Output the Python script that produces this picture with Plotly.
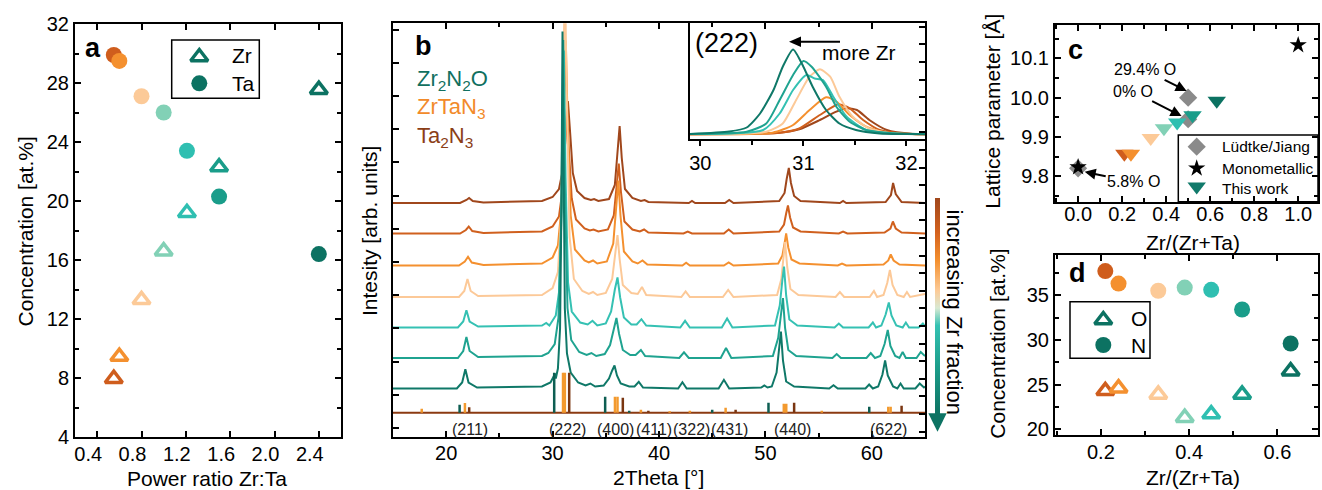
import plotly.graph_objects as go

W, H = 1322, 490
FONT = "Liberation Sans, Arial, sans-serif"

# ---------------- data ----------------
# samples ordered Ta-rich -> Zr-rich
SAMPLE_COLORS = ["#cf5d1d", "#f4902f", "#fcca98", "#82d1b6", "#2fbfb1", "#1a9d8a", "#0c7262"]

# panel a: composition vs. power ratio
power_ratio = [0.55, 0.60, 0.80, 1.00, 1.21, 1.50, 2.40]
conc_zr = [7.95, 9.45, 13.3, 16.6, 19.2, 22.3, 27.55]
conc_ta = [29.9, 29.5, 27.1, 26.0, 23.4, 20.3, 16.4]

# panel c: lattice parameter
zr_fraction = [0.21, 0.24, 0.33, 0.39, 0.45, 0.52, 0.63]
lattice_this_work = [9.857, 9.857, 9.897, 9.922, 9.937, 9.955, 9.992]
lit_zr_fraction = [0.50, 0.50, 0.00]
lit_lattice = [10.000, 9.945, 9.820]
mono_zr_fraction = [0.00, 1.00]
mono_lattice = [9.823, 10.134]
note_labels = ["29.4% O", "0% O", "5.8% O"]
note_targets_x = [0.493, 0.47, 0.03]
note_targets_y = [10.017, 9.953, 9.811]

# panel d: O and N content
conc_o = [24.3, 24.6, 23.9, 21.3, 21.7, 23.9, 26.5]
conc_n = [37.7, 36.3, 35.5, 35.85, 35.6, 33.4, 29.6]

# panel b: diffractograms (2theta, intensity above background), top -> bottom
XRD_COLORS = ["#a0471c", "#d0601e", "#f4902f", "#fcc998", "#35c1b3", "#1fa390", "#0f7868"]

xrd1_tt = [15, 21.3, 21.9, 22.15, 22.5, 23.5, 29.0, 30.0, 30.6, 31.0, 31.25, 31.44, 31.65, 31.9, 32.3, 33.0, 33.6, 33.9,
           34.3, 35.3, 35.85, 36.1, 36.3, 36.5, 36.8, 37.5, 38.3, 38.65, 39.0, 42.8, 43.1, 43.4, 46.2, 46.6, 47.0, 51.3,
           51.8, 52.0, 52.2, 52.4, 52.7, 53.3, 57.0, 57.3, 57.6, 61.3, 61.8, 62.0, 62.25, 62.8, 65]
xrd1_int = [0, 0, 3, 5, 2, 0.5, 2, 6, 14, 35, 70, 102, 70, 30, 12, 5, 3, 4,
            2, 4, 18, 50, 77, 45, 14, 5, 2, 3, 1, 0, 2, 0, 0, 3, 0, 2,
            10, 24, 35, 20, 7, 2, 0, 2, 0, 1, 8, 20, 9, 1, 0]

xrd2_tt = [15, 21.3, 21.85, 22.12, 22.45, 23.5, 29.0, 30.0, 30.6, 30.95, 31.18, 31.34, 31.52, 31.8, 32.2, 33.0, 33.5,
           33.85, 34.3, 35.2, 35.75, 36.02, 36.22, 36.42, 36.75, 37.5, 38.2, 38.6, 39.0, 42.3, 42.7, 43.1, 46.1, 46.55,
           47.0, 51.3, 51.75, 51.95, 52.12, 52.32, 52.6, 53.3, 56.9, 57.3, 57.7, 61.2, 61.75, 61.98, 62.25, 62.8, 65]
xrd2_int = [0, 0, 3.5, 7, 2.5, 0.5, 2, 7, 17, 45, 90, 125, 85, 35, 14, 5, 3,
            4, 2, 4, 18, 48, 70, 42, 12, 4, 2, 4, 1, 0, 2, 0, 0, 4,
            0, 2, 9, 20, 28, 16, 6, 2, 0, 2, 0, 1, 5, 12, 5, 1, 0]

xrd3_tt = [15, 21.2, 21.75, 22.05, 22.4, 23.5, 29.0, 30.0, 30.5, 30.85, 31.08, 31.24, 31.42, 31.7, 32.1, 33.0, 33.4,
           33.8, 34.2, 35.1, 35.7, 35.98, 36.18, 36.38, 36.7, 37.5, 38.0, 38.45, 38.9, 42.2, 42.55, 42.9, 46.1, 46.55,
           47.0, 51.2, 51.6, 51.8, 51.95, 52.15, 52.45, 53.2, 56.8, 57.2, 57.6, 61.1, 61.55, 61.78, 62.05, 62.6, 65]
xrd3_int = [0, 0, 4, 8.7, 3, 0.5, 2, 8, 20, 60, 150, 225, 140, 50, 16, 5, 3,
            5, 2, 4, 22, 55, 85, 50, 14, 4, 2, 5, 1, 0, 2.7, 0, 0, 3,
            0, 2, 10, 22, 32, 18, 6, 2, 0, 2, 0, 1, 5, 11, 5, 1, 0]

xrd4_tt = [15, 21.2, 21.7, 22.0, 22.3, 23.0, 29.0, 30.0, 30.5, 30.8, 31.0, 31.16, 31.33, 31.6, 32.0, 32.8, 33.4, 33.8,
           34.2, 35.0, 35.6, 35.9, 36.1, 36.3, 36.6, 37.4, 38.0, 38.4, 38.8, 42.1, 42.5, 42.9, 46.0, 46.5, 47.0, 51.1,
           51.5, 51.7, 51.85, 52.05, 52.35, 53.1, 56.6, 57.0, 57.4, 59.8, 60.2, 60.5, 61.1, 61.45, 61.7, 61.95, 62.4,
           63.0, 63.3, 63.6, 65]
xrd4_int = [0, 0, 6, 18, 6, 1, 2, 9, 25, 80, 220, 320, 200, 60, 18, 6, 3, 5,
            2, 4, 18, 45, 62, 38, 12, 4, 3, 10, 2, 0, 5.7, 0, 0, 7, 0, 2,
            18, 40, 55, 30, 8, 2, 0, 5, 0, 0, 6, 0, 2, 14, 27, 12, 2,
            0, 5, 0, 3]

xrd5_tt = [15, 21.1, 21.6, 21.9, 22.2, 23.0, 29.0, 29.4, 29.7, 30.3, 30.6, 30.85, 31.06, 31.22, 31.45, 31.8, 32.6,
           33.3, 33.75, 34.2, 35.0, 35.5, 35.85, 36.1, 36.35, 36.7, 37.4, 37.9, 38.35, 38.8, 42.0, 42.45, 42.9, 45.9,
           46.4, 46.9, 50.9, 51.35, 51.6, 51.75, 51.95, 52.25, 53.0, 56.5, 56.9, 57.3, 59.7, 60.1, 60.4, 60.9, 61.3,
           61.6, 61.85, 62.3, 62.9, 63.2, 63.5, 64.4, 64.8, 65]
xrd5_int = [0, 0, 6, 17.3, 6, 1, 2, 4.5, 2, 12, 35, 120, 277, 150, 45, 16, 5,
            3, 6.7, 2, 4, 16, 38, 50, 30, 10, 3, 3, 8.3, 2, 0, 6.7, 0, 0,
            9, 0, 2, 22, 48, 61, 32, 8, 2, 0, 4, 0, 0, 5, 0, 2, 13,
            25, 12, 2, 0, 5, 0, 0, 4, 1]

xrd6_tt = [15, 21.1, 21.6, 21.9, 22.2, 23.0, 29.0, 29.6, 30.2, 30.55, 30.8, 31.0, 31.15, 31.4, 31.75, 32.5, 33.2,
           33.65, 34.1, 34.9, 35.4, 35.75, 36.0, 36.25, 36.6, 37.3, 37.8, 38.3, 38.7, 41.9, 42.35, 42.8, 45.8, 46.3,
           46.8, 50.7, 51.2, 51.48, 51.65, 51.85, 52.15, 52.9, 56.3, 56.7, 57.1, 59.5, 59.9, 60.3, 60.8, 61.2, 61.5,
           61.75, 62.2, 62.6, 62.9, 63.2, 64.2, 64.6, 65]
xrd6_int = [0, 0, 7, 21, 7, 1, 2, 5, 14, 40, 130, 318, 170, 50, 18, 6, 3,
            5, 2, 4, 13, 30, 40, 24, 8, 3, 3, 8, 2, 0, 5.7, 0, 0, 10,
            0, 2, 20, 45, 60, 30, 8, 2, 0, 4, 0, 0, 5, 0, 2, 14, 28,
            12, 2, 0, 6, 0, 0, 6, 2]

xrd7_tt = [15, 21.0, 21.5, 21.8, 22.1, 22.9, 29.0, 29.8, 30.1, 30.2, 30.3, 30.5, 30.7, 30.83, 30.93, 31.03, 31.15,
           31.35, 31.7, 32.4, 33.1, 33.55, 34.0, 34.8, 35.3, 35.6, 35.82, 36.05, 36.4, 37.2, 37.7, 38.1, 38.5, 41.8,
           42.2, 42.6, 45.6, 46.1, 46.6, 49.6, 49.9, 50.2, 50.6, 51.05, 51.3, 51.46, 51.65, 51.95, 52.7, 56.0, 56.4,
           56.8, 59.4, 59.75, 60.1, 60.6, 61.0, 61.25, 61.5, 62.0, 62.4, 62.7, 63.0, 64.1, 64.5, 64.9, 65]
xrd7_int = [0, 0, 6, 19.3, 6, 1, 2, 6, 12, 15, 10, 20, 60, 180, 357, 200, 80,
            35, 16, 6, 3, 5, 2, 3, 10, 18, 23, 13, 5, 2, 2, 6.7, 1, 0,
            6.3, 0, 0, 8.7, 0, 1, 3, 1, 2, 16, 38, 57, 28, 7, 2, 0, 3.3,
            0, 0, 4, 0, 2, 14, 28, 13, 2, 0, 5, 0, 0, 5, 1, 2]

XRD_TT = [xrd1_tt, xrd2_tt, xrd3_tt, xrd4_tt, xrd5_tt, xrd6_tt, xrd7_tt]
XRD_INT = [xrd1_int, xrd2_int, xrd3_int, xrd4_int, xrd5_int, xrd6_int, xrd7_int]

# (222) close-up, intensity above background, same order as XRD_COLORS
z222_tt = [
    [29.9, 30.77, 30.96, 31.16, 31.32, 31.42, 31.52, 31.64, 31.81, 32.06, 32.18],
    [29.9, 30.77, 30.96, 31.16, 31.34, 31.45, 31.58, 31.74, 31.94, 32.18],
    [29.9, 30.7, 30.9, 31.06, 31.22, 31.32, 31.45, 31.61, 31.81, 32.18],
    [29.9, 30.64, 30.8, 30.93, 31.06, 31.16, 31.26, 31.35, 31.48, 31.64, 31.87, 32.18],
    [29.9, 30.61, 30.77, 30.9, 31.03, 31.11, 31.19, 31.29, 31.42, 31.61, 31.87, 32.18],
    [29.9, 30.45, 30.64, 30.77, 30.9, 31.0, 31.08, 31.22, 31.32, 31.45, 31.61, 31.87, 32.18],
    [29.9, 30.28, 30.45, 30.58, 30.71, 30.8, 30.9, 31.0, 31.09, 31.22, 31.35, 31.51, 31.74, 32.0, 32.18],
]
z222_int = [
    [0.3, 1.8, 5.2, 14.5, 22.8, 26.2, 24.5, 14.5, 4.5, 0.5, 0.3],
    [0.3, 1.8, 6, 19.5, 30.2, 26.2, 14.5, 4.5, 1.2, 0.3],
    [0.3, 1.8, 9.5, 24.5, 37.2, 32.8, 19.5, 7.8, 1.8, 0.3],
    [0.5, 2.8, 11, 34.5, 57.8, 65.2, 57.8, 37.8, 17.8, 6, 1, 0.5],
    [0.5, 4.5, 21, 44.5, 59.5, 56, 54.5, 37.8, 17.8, 4.5, 1, 0.5],
    [0.5, 2.8, 11, 34.5, 59.5, 73.5, 67.8, 47.8, 27.8, 12.8, 4.5, 1.2, 0.5],
    [0.5, 3, 7, 21, 44.5, 67.8, 85, 67.8, 47.8, 24.5, 11, 4.5, 1, 0.5, 0.3],
]

# reference patterns (position, relative height)
ref_names = ["Zr<sub>2</sub>N<sub>2</sub>O", "ZrTaN<sub>3</sub>", "Ta<sub>2</sub>N<sub>3</sub>"]
ref_colors = ["#0d5e52", "#f39a2e", "#7a3510"]
ref_label_colors = ["#11705f", "#f28a2a", "#8b3e17"]
ref_pos = [
    [21.26, 30.15, 34.94, 37.2, 45.0, 50.29, 59.76],
    [17.7, 21.76, 30.98, 31.15, 35.86, 36.1, 38.3, 41.0, 42.9, 46.26, 51.73, 51.96, 55.3, 61.55, 61.77],
    [22.16, 31.56, 36.6, 39.0, 47.2, 52.7, 62.8],
]
ref_height = [
    [8, 40, 16, 2, 3, 10, 6],
    [4, 9.6, 40, 40, 16, 16, 3, 1.5, 2, 5, 9, 9, 2, 6, 6],
    [5.4, 40, 15, 2, 3, 10, 7],
]
hkl_labels = ["(211)", "(222)", "(400)", "(411)", "(322)", "(431)", "(440)", "(622)"]
hkl_pos = [22.25, 31.4, 35.9, 39.5, 43.1, 46.6, 52.5, 61.6]

GRADIENT = [[0, "#0d7363"], [0.22, "#1c9e8b"], [0.41, "#35c2b3"], [0.49, "#d8e9d3"],
            [0.57, "#fccb98"], [0.71, "#f4902f"], [0.84, "#d4621e"], [1, "#a0471c"]]


# ---------------- layout helpers ----------------
def P(x, y):
    return x / W, 1 - y / H


def dom(a, b):
    return [a / W, b / W]


def ydom(top, bottom):
    return [1 - bottom / H, 1 - top / H]


def frame_axis(**kw):
    d = dict(showline=True, linewidth=2, linecolor="black", mirror="ticks", ticks="inside",
             ticklen=6, tickwidth=2, tickcolor="black", showgrid=False, zeroline=False,
             automargin=False, tickfont=dict(size=20, color="black", family=FONT))
    d.update(kw)
    return d


def minor(dt):
    return dict(ticks="inside", ticklen=4, tickwidth=2, tickcolor="black", dtick=dt)


fig = go.Figure()

# ---------------- panel a ----------------
fig.add_trace(go.Scatter(x=power_ratio, y=conc_ta, mode="markers",
                         marker=dict(symbol="circle", size=16, color=SAMPLE_COLORS, opacity=1),
                         xaxis="x", yaxis="y"))
fig.add_trace(go.Scatter(x=power_ratio, y=conc_zr, mode="markers",
                         marker=dict(symbol="triangle-up-open", size=15, color=SAMPLE_COLORS, opacity=1,
                                     line=dict(width=3.5)),
                         xaxis="x", yaxis="y"))

# ---------------- panel b ----------------
B_OFFSETS = [233.7, 203.2, 171.2, 139.7, 109.2, 78.7, 48.2]
STICK_BASE = 24
for tt, inten, off, col in zip(XRD_TT, XRD_INT, B_OFFSETS, XRD_COLORS):
    fig.add_trace(go.Scatter(x=tt, y=[v + off for v in inten], mode="lines",
                             line=dict(color=col, width=2), xaxis="x2", yaxis="y2"))

fig.add_trace(go.Scatter(x=[15, 65], y=[STICK_BASE, STICK_BASE], mode="lines",
                         line=dict(color="#8b3a12", width=2), xaxis="x2", yaxis="y2"))
for pos, hgt, col in zip(ref_pos, ref_height, ref_colors):
    sx, sy = [], []
    for p, h in zip(pos, hgt):
        sx += [p, p, None]
        sy += [STICK_BASE, STICK_BASE + h, None]
    fig.add_trace(go.Scatter(x=sx, y=sy, mode="lines",
                             line=dict(color=col, width=2.5), xaxis="x2", yaxis="y2"))

# right-hand tick axis of panel b
fig.add_trace(go.Scatter(x=[None], y=[None], xaxis="x2", yaxis="y3"))

# colour ramp for the Zr-fraction arrow
fig.add_trace(go.Scatter(x=[None], y=[None], mode="markers", xaxis="x2", yaxis="y2",
                         marker=dict(color=[0], cmin=0, cmax=1, colorscale=GRADIENT, showscale=True,
                                     colorbar=dict(x=934.5 / W, xanchor="left", xpad=0, thickness=5,
                                                   thicknessmode="pixels", len=216, lenmode="pixels",
                                                   y=1 - 198 / H, yanchor="top", ypad=0,
                                                   outlinewidth=0, ticks="", showticklabels=False))))

# inset
for tt, inten, col in zip(z222_tt, z222_int, XRD_COLORS):
    fig.add_trace(go.Scatter(x=tt, y=inten, mode="lines",
                             line=dict(color=col, width=2, shape="spline", smoothing=0.6),
                             xaxis="x4", yaxis="y4"))

# ---------------- panel c ----------------
fig.add_trace(go.Scatter(x=lit_zr_fraction, y=lit_lattice, mode="markers",
                         marker=dict(symbol="diamond", size=14, color="#8a8a8a", opacity=1),
                         xaxis="x5", yaxis="y5"))
fig.add_trace(go.Scatter(x=mono_zr_fraction, y=mono_lattice, mode="markers",
                         marker=dict(symbol="star", size=13, color="black", opacity=1),
                         xaxis="x5", yaxis="y5"))
fig.add_trace(go.Scatter(x=zr_fraction, y=lattice_this_work, mode="markers",
                         marker=dict(symbol="triangle-down", size=16, color=SAMPLE_COLORS, opacity=1),
                         xaxis="x5", yaxis="y5"))

# ---------------- panel d ----------------
fig.add_trace(go.Scatter(x=zr_fraction, y=conc_n, mode="markers",
                         marker=dict(symbol="circle", size=16, color=SAMPLE_COLORS, opacity=1),
                         xaxis="x6", yaxis="y6"))
fig.add_trace(go.Scatter(x=zr_fraction, y=conc_o, mode="markers",
                         marker=dict(symbol="triangle-up-open", size=15, color=SAMPLE_COLORS, opacity=1,
                                     line=dict(width=3.5)),
                         xaxis="x6", yaxis="y6"))

# ---------------- legend keys (page-pixel overlay axis) ----------------
LEGEND_KEYS = [
    # x, y, symbol, size, colour, outline width
    (199.3, 57, "triangle-up-open", 15, "#0c7262", 3.5),
    (199.3, 83.3, "circle", 16, "#0c7262", 0),
    (1196.7, 146.7, "diamond", 14, "#8a8a8a", 0),
    (1196.7, 168.3, "star", 13, "black", 0),
    (1196.7, 186.5, "triangle-down", 16, "#117a6b", 0),
    (1103.3, 320, "triangle-up-open", 15, "#0c7262", 3.5),
    (1103.3, 345, "circle", 16, "#0c7262", 0),
]
fig.add_trace(go.Scatter(
    x=[k[0] for k in LEGEND_KEYS], y=[k[1] for k in LEGEND_KEYS], mode="markers",
    marker=dict(symbol=[k[2] for k in LEGEND_KEYS], size=[k[3] for k in LEGEND_KEYS],
                color=[k[4] for k in LEGEND_KEYS], opacity=1,
                line=dict(width=[k[5] for k in LEGEND_KEYS])),
    xaxis="x7", yaxis="y7", hoverinfo="skip"))
LEGEND_BOXES = [(171.7, 40, 259.3, 98.3), (1178.3, 135, 1318, 201.7), (1070, 301.7, 1150, 358.3)]
LEGEND_TEXTS = [
    (230, 55, "Zr", 21), (230, 83.3, "Ta", 21),
    (1219.5, 146.7, "Lüdtke/Jiang", 15.5), (1219.5, 168.3, "Monometallic", 15.5),
    (1219.5, 188.3, "This work", 15.5),
    (1129, 318.3, "O", 21), (1129, 345, "N", 21),
]

# ---------------- axes ----------------
layout = dict(
    width=W, height=H, margin=dict(l=0, r=0, t=0, b=0, pad=0, autoexpand=False),
    paper_bgcolor="white", plot_bgcolor="rgba(0,0,0,0)", showlegend=False,
    font=dict(family=FONT, color="black", size=20),
    xaxis=frame_axis(domain=dom(75, 341), anchor="y", range=[0.2, 2.6], tick0=0.4, dtick=0.4,
                     tickformat=".1f", ticklabelshift=-9, ticklabelstandoff=-2),
    yaxis=frame_axis(domain=ydom(24, 437), anchor="x", range=[4, 32], dtick=4, minor=minor(2)),
    xaxis2=frame_axis(domain=dom(393, 925), anchor="y2", range=[15, 65], tick0=0, dtick=10,
                      minor=minor(5), ticklabelstandoff=-3),
    yaxis2=frame_axis(domain=ydom(23.3, 436.7), anchor="x2", range=[0, 413.4], tick0=8.7, dtick=33.2,
                      mirror=True, showticklabels=False),
    yaxis3=dict(overlaying="y2", anchor="x2", side="right", range=[0, 413.4], tick0=5.1, dtick=17.6,
                ticks="inside", ticklen=6, tickwidth=2, tickcolor="black", showline=False, automargin=False,
                showticklabels=False, showgrid=False, zeroline=False),
    xaxis4=frame_axis(domain=dom(690, 925), anchor="y4", range=[29.9, 32.18], dtick=1,
                      ticks="outside", ticklen=5, mirror=True,
                      minor=dict(ticks="outside", ticklen=4, tickwidth=2, tickcolor="black", dtick=0.5)),
    yaxis4=frame_axis(domain=ydom(23.3, 139.3), anchor="x4", range=[-4.8, 111.2], ticks="",
                      showticklabels=False, mirror=True),
    xaxis5=frame_axis(domain=dom(1055, 1318), anchor="y5", range=[-0.105, 1.09], tick0=0, dtick=0.2,
                      tickformat=".1f", minor=minor(0.1), ticklabelstandoff=-7),
    yaxis5=frame_axis(domain=ydom(25, 201.7), anchor="x5", range=[9.735, 10.185], tick0=9.8, dtick=0.1,
                      tickformat=".1f", minor=minor(0.05)),
    xaxis6=frame_axis(domain=dom(1055, 1318), anchor="y6", range=[0.096, 0.692], tick0=0, dtick=0.2,
                      tickformat=".1f", minor=minor(0.1), ticklabelstandoff=-2),
    yaxis6=frame_axis(domain=ydom(255, 435), anchor="x6", range=[19.36, 39.5], tick0=0, dtick=5,
                      minor=minor(2.5)),
    xaxis7=dict(domain=[0, 1], range=[0, W], visible=False, anchor="y7", fixedrange=True),
    yaxis7=dict(domain=[0, 1], range=[H, 0], visible=False, anchor="x7", fixedrange=True),
)
fig.update_layout(**layout)

# ---------------- text ----------------
ann = []


def text(x, y, s, size=21, angle=0, color="black", xanchor="center", bold=False):
    px_, py_ = P(x, y)
    ann.append(dict(x=px_, y=py_, xref="paper", yref="paper", text=f"<b>{s}</b>" if bold else s,
                    showarrow=False, textangle=angle, xanchor=xanchor, yanchor="middle",
                    font=dict(size=size, color=color, family=FONT)))


# axis titles
text(25, 231.5, "Concentration [at.%]", angle=-90)
text(206.7, 478, "Power ratio Zr:Ta")
text(369, 231, "Intesity [arb. units]", angle=-90)
text(658, 477, "2Theta [°]")
text(993, 111.7, "Lattice parameter [Å]", angle=-90)
text(1193, 243, "Zr/(Zr+Ta)")
text(996.7, 344, "Concentration [at.%]", angle=-90)
text(1193, 477, "Zr/(Zr+Ta)")

# panel letters
text(93, 48, "a", size=27, bold=True)
text(423, 46, "b", size=27, bold=True)
text(1075, 50, "c", size=27, bold=True)
text(1077, 273, "d", size=27, bold=True)

# legend labels
for lx, ly, s, sz in LEGEND_TEXTS:
    text(lx, ly, s, size=sz, xanchor="left")

# reference phase names
for name, col, yy in zip(ref_names, ref_label_colors, [80, 108, 137]):
    text(415, yy, name, size=22, color=col, xanchor="left")

# inset labels
text(726.5, 43, "(222)", size=27)
text(859, 53, "more Zr", size=21)

# hkl labels under the reference sticks
for lab, pos in zip(hkl_labels, hkl_pos):
    ann.append(dict(x=pos, y=7.4, xref="x2", yref="y2", text=lab, showarrow=False,
                    font=dict(size=16, color="#222222", family=FONT)))

# Zr-fraction arrow caption
text(954, 312.5, "increasing Zr fraction", size=22, angle=90)

# panel c notes, each with an arrow to its marker
note_offsets = [(-42, -21), (-49, -25), (49, 10)]
for lab, tx, ty, (dx, dy) in zip(note_labels, note_targets_x, note_targets_y, note_offsets):
    ann.append(dict(x=tx, y=ty, xref="x5", yref="y5", text=lab, showarrow=True, ax=dx, ay=dy,
                    arrowhead=2, arrowsize=1.1, arrowwidth=2, arrowcolor="black", standoff=0,
                    font=dict(size=16, color="black", family=FONT)))

fig.update_layout(annotations=ann)

# legend frames
for x0, y0, x1, y1 in LEGEND_BOXES:
    p0, p1 = P(x0, y0), P(x1, y1)
    fig.add_shape(type="rect", xref="paper", yref="paper", x0=p0[0], y0=p0[1], x1=p1[0], y1=p1[1],
                  line=dict(color="black", width=1.5), fillcolor="white", layer="below")

# "more Zr" arrow in the inset
t0, t1 = P(840, 41.7), P(800, 41.7)
fig.add_shape(type="line", xref="paper", yref="paper", x0=t0[0], y0=t0[1], x1=t1[0], y1=t1[1],
              line=dict(color="black", width=2))
h1, h2, h3 = P(801, 36.5), P(801, 46.9), P(789, 41.7)
fig.add_shape(type="path", xref="paper", yref="paper",
              path=f"M {h1[0]},{h1[1]} L {h2[0]},{h2[1]} L {h3[0]},{h3[1]} Z",
              fillcolor="black", line=dict(width=0))

# arrowhead at the end of the colour ramp
a1, a2, a3 = P(928.3, 413.3), P(946.7, 413.3), P(937.5, 431.7)
fig.add_shape(type="path", xref="paper", yref="paper",
              path=f"M {a1[0]},{a1[1]} L {a2[0]},{a2[1]} L {a3[0]},{a3[1]} Z",
              fillcolor="#0d7363", line=dict(width=0))

fig.write_html("out.html")
